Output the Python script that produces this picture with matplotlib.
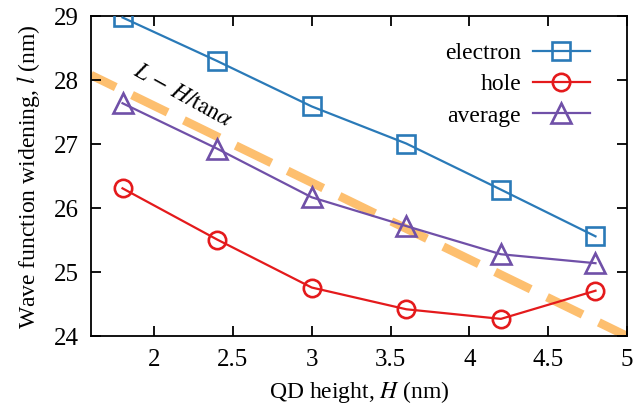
import numpy as np
import matplotlib
matplotlib.use('Agg')
import matplotlib.pyplot as plt

plt.rcParams['font.family'] = 'serif'
plt.rcParams['font.serif'] = ['Liberation Serif', 'DejaVu Serif']
plt.rcParams['mathtext.fontset'] = 'stix'

# QD heights (nm) and widening of the wave function (nm)
heights = [1.8, 2.4, 3.0, 3.6, 4.2, 4.8]
electron = [28.98, 28.30, 27.59, 27.01, 26.29, 25.56]
hole = [26.31, 25.51, 24.76, 24.42, 24.27, 24.71]
average = [27.64, 26.93, 26.17, 25.72, 25.28, 25.14]

# geometric estimate l = L - H/tan(alpha)
L_wl = 30.0
tan_alpha = 1 / 1.2
h_guide = [1.6, 5.0]

fig = plt.figure(figsize=(6.34, 4.05), dpi=100)
ax = fig.add_axes([0.1435, 0.170, 0.8455, 0.790])

guide = [L_wl - h / tan_alpha for h in h_guide]
ax.plot(h_guide, guide, color='#fdbf6f', lw=6.2, ls=(1.4, (4.6, 2.1)),
        solid_capstyle='butt', dash_capstyle='butt', zorder=1)
ax.text(2.18, 27.76, r'$L\,-\,H/\mathrm{tan}\alpha$', fontsize=17, rotation=-29,
        rotation_mode='anchor', ha='center', va='center', zorder=4)

mk = dict(markerfacecolor='none', markeredgewidth=1.9, lw=1.6, zorder=3)
ax.plot(heights, electron, color='#2a7ab8', marker='s', markersize=12.5,
        label='electron', **mk)
ax.plot(heights, hole, color='#e41a1c', marker='o', markersize=12.5,
        label='hole', **mk)
ax.plot(heights, average, color='#7050a8', marker='^', markersize=14,
        label='average', **mk)

ax.set_xlim(1.6, 5)
ax.set_ylim(24, 29)
ax.set_xticks([2, 2.5, 3, 3.5, 4, 4.5, 5])
ax.set_xticklabels(['2', '2.5', '3', '3.5', '4', '4.5', '5'])
ax.set_yticks([24, 25, 26, 27, 28, 29])
ax.tick_params(direction='in', top=True, right=True, length=7, width=1.3,
               labelsize=18, pad=9)
for sp in ax.spines.values():
    sp.set_linewidth(1.3)

ax.set_xlabel(r'QD height, $H$ (nm)', fontsize=17, labelpad=6)
ax.set_ylabel(r'Wave function widening, $l$ (nm)', fontsize=17, labelpad=8)

ax.legend(loc='upper right', bbox_to_anchor=(0.97, 0.985), markerfirst=False,
          frameon=False, fontsize=17, handlelength=2.4, labelspacing=0.42,
          handletextpad=0.5)

fig.savefig('out.png', dpi=100)
